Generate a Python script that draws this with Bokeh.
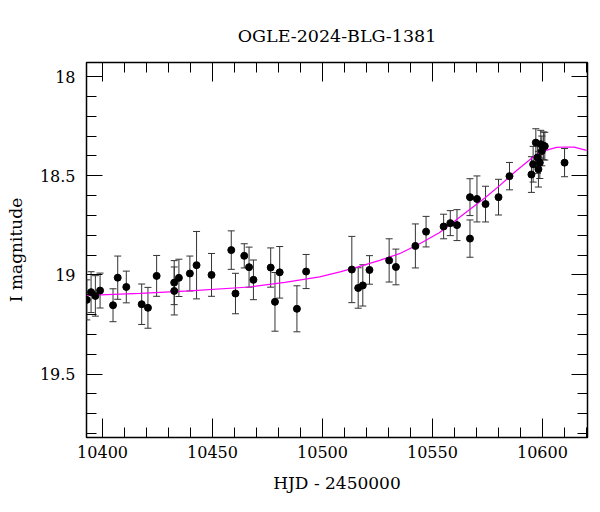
from bokeh.plotting import figure
from bokeh.models import (ColumnDataSource, Range1d, SingleIntervalTicker, LinearAxis,
                          Whisker, TeeHead, CustomJSTickFormatter, CustomLabelingPolicy)
from bokeh.embed import file_html
from bokeh.resources import INLINE

# --- data ---
hjd = [10392.83, 10394.78, 10396.73, 10398.87, 10404.76, 10406.90, 10410.80, 10417.79,
       10420.64, 10424.59, 10432.58, 10432.60, 10434.71, 10439.70, 10442.74, 10449.55,
       10458.53, 10460.44, 10464.43, 10466.61, 10468.60, 10476.45, 10478.40, 10480.54,
       10488.38, 10492.56, 10513.34, 10516.24, 10518.33, 10521.37, 10530.31, 10533.39,
       10542.24, 10547.10, 10555.08, 10558.12, 10561.16, 10567.06, 10567.06, 10570.24,
       10574.14, 10580.04, 10585.03, 10595.01, 10595.78, 10597.01, 10597.73, 10598.18,
       10598.82, 10599.27, 10599.73, 10600.45, 10601.09, 10610.07]
mag = [19.126, 19.087, 19.106, 19.079, 19.153, 19.014, 19.061, 19.148,
       19.166, 19.005, 19.039, 19.081, 19.015, 18.993, 18.951, 19.000,
       18.875, 19.094, 18.904, 18.961, 19.025, 18.963, 19.136, 18.987,
       19.171, 18.983, 18.973, 19.066, 19.053, 18.975, 18.927, 18.960,
       18.854, 18.782, 18.756, 18.739, 18.749, 18.608, 18.817, 18.617,
       18.643, 18.608, 18.502, 18.494, 18.442, 18.333, 18.408, 18.467,
       18.434, 18.341, 18.375, 18.349, 18.351, 18.434]
err = [0.101, 0.103, 0.102, 0.088, 0.083, 0.109, 0.080, 0.102,
       0.103, 0.103, 0.111, 0.121, 0.094, 0.088, 0.170, 0.108,
       0.097, 0.102, 0.061, 0.101, 0.100, 0.099, 0.148, 0.130,
       0.116, 0.086, 0.167, 0.102, 0.104, 0.072, 0.109, 0.090,
       0.111, 0.077, 0.062, 0.063, 0.078, 0.093, 0.094, 0.116,
       0.090, 0.090, 0.069, 0.090, 0.090, 0.070, 0.080, 0.090,
       0.080, 0.070, 0.075, 0.070, 0.070, 0.071]

model_hjd = [10392.97, 10417.0, 10439.7, 10466.9, 10482.9, 10498.7, 10508.0, 10517.0,
             10526.0, 10535.0, 10544.0, 10553.1, 10560.0, 10567.1, 10573.8, 10580.4,
             10588.0, 10595.5, 10599.0, 10603.1, 10606.5, 10610.6, 10614.4, 10620.1]
model_mag = [19.103, 19.093, 19.081, 19.061, 19.038, 19.010, 18.985, 18.957,
             18.927, 18.893, 18.844, 18.787, 18.730, 18.669, 18.612, 18.551,
             18.476, 18.408, 18.382, 18.367, 18.357, 18.355, 18.356, 18.372]

title_text = "OGLE-2024-BLG-1381"
x_label = "HJD - 2450000"
y_label = "I magnitude"

FONT = "DejaVu Serif"

src = ColumnDataSource(dict(x=hjd, y=mag,
                            upper=[m - e for m, e in zip(mag, err)],
                            lower=[m + e for m, e in zip(mag, err)]))

p = figure(frame_width=501, frame_height=375, output_backend="svg", toolbar_location=None,
           x_range=Range1d(10392.7, 10620.5), y_range=Range1d(19.82, 17.929),
           min_border_left=86, min_border_right=2, min_border_top=62, min_border_bottom=60,
           x_axis_type=None, y_axis_type=None)
p.grid.visible = False
p.outline_line_color = "black"
p.outline_line_width = 1.5
p.background_fill_color = "white"
p.border_fill_color = "white"

p.title.text = title_text
p.title.align = "center"
p.title.text_font = FONT
p.title.text_font_size = "17.5px"
p.title.text_font_style = "normal"
p.title.text_color = "black"
p.title.standoff = 25

xt = SingleIntervalTicker(interval=50, num_minor_ticks=5)
yt = SingleIntervalTicker(interval=0.5, num_minor_ticks=5)
yfmt = CustomJSTickFormatter(code="return tick.toString();")
no_labels = CustomLabelingPolicy(code="return new Set();")

def style(ax, major, minor, show):
    ax.axis_line_color = None
    ax.major_tick_in = major
    ax.major_tick_out = 0
    ax.minor_tick_in = minor
    ax.minor_tick_out = 0
    ax.major_tick_line_color = "black"
    ax.minor_tick_line_color = "black"
    ax.major_label_text_font = FONT
    ax.major_label_text_color = "black"
    ax.axis_label_text_font = FONT
    ax.axis_label_text_font_size = "17px"
    ax.axis_label_text_font_style = "normal"
    ax.axis_label_text_color = "black"
    if show:
        ax.major_label_text_font_size = "16px"
    else:
        ax.major_label_text_font_size = "1px"
        ax.major_label_policy = no_labels
        ax.major_label_standoff = 0
        ax.axis_label_standoff = 0

xb = LinearAxis(ticker=xt, axis_label=x_label)
style(xb, 19, 10, True)
xb.major_label_standoff = 8
xb.axis_label_standoff = 12
p.add_layout(xb, "below")

xa = LinearAxis(ticker=xt)
style(xa, 19, 10, False)
p.add_layout(xa, "above")

yl = LinearAxis(ticker=yt, formatter=yfmt, axis_label=y_label)
style(yl, 16, 10, True)
yl.major_label_standoff = 11
yl.axis_label_standoff = 11
p.add_layout(yl, "left")

yr = LinearAxis(ticker=yt)
style(yr, 16, 10, False)
p.add_layout(yr, "right")

p.line(model_hjd, model_mag, line_color="#ff00ff", line_width=1.2)

wh = Whisker(base="x", upper="upper", lower="lower", source=src,
             line_color="#333333", line_width=1,
             upper_head=TeeHead(size=7, line_color="#333333", line_width=1),
             lower_head=TeeHead(size=7, line_color="#333333", line_width=1))
p.add_layout(wh)

p.scatter("x", "y", source=src, size=7, color="black")

open("out.html", "w").write(file_html(p, INLINE))
